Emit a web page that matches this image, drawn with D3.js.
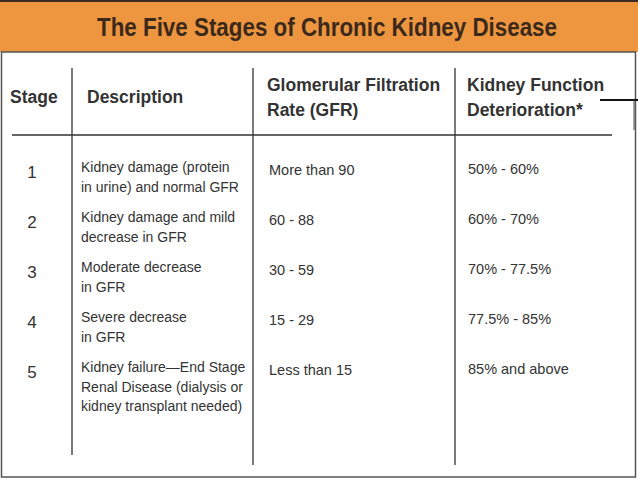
<!DOCTYPE html><html><head><meta charset="utf-8">
<script src="https://cdn.jsdelivr.net/npm/d3@7"></script>
<style>body{margin:0;background:#fff}svg{display:block}</style></head><body>
<script>
const title = "The Five Stages of Chronic Kidney Disease";
const headers = [["Stage"],["Description"],["Glomerular Filtration","Rate (GFR)"],["Kidney Function","Deterioration*"]];
const stages = ["1","2","3","4","5"];
const descriptions = [["Kidney damage (protein","in urine) and normal GFR"],["Kidney damage and mild","decrease in GFR"],["Moderate decrease","in GFR"],["Severe decrease","in GFR"],["Kidney failure\u2014End Stage","Renal Disease (dialysis or","kidney transplant needed)"]];
const gfr = ["More than 90","60 - 88","30 - 59","15 - 29","Less than 15"];
const deterioration = ["50% - 60%","60% - 70%","70% - 77.5%","77.5% - 85%","85% and above"];

const W=638,H=479;
const svg=d3.select("body").append("svg").attr("width",W).attr("height",H);
const font="'Liberation Sans Narrow','Arial Narrow','Liberation Sans',sans-serif";
svg.append("rect").attr("width",W).attr("height",H).attr("fill","#fff");
svg.append("rect").attr("x",0).attr("y",0).attr("width",W).attr("height",52).attr("fill","#EE953F");
svg.append("rect").attr("x",0).attr("y",0).attr("width",W).attr("height",2).attr("fill","#3a2c22");
svg.append("rect").attr("x",1.5).attr("y",52).attr("width",W-4).attr("height",H-54).attr("fill","none").attr("stroke","#555").attr("stroke-width",1.5);
svg.append("text").attr("x",97).attr("y",36).attr("textLength",460).attr("lengthAdjust","spacingAndGlyphs").attr("font-family",font).attr("font-weight","bold").attr("font-size",25).attr("fill","#3b2a1c").text(title);

const y=d3.scaleBand().domain(stages).range([142,392]);
const colX=[10,87,267,467];
const lines=[[72,68,455],[253,68,465],[455,68,465]];
svg.selectAll("line.v").data(lines).join("line").attr("x1",d=>d[0]).attr("x2",d=>d[0]).attr("y1",d=>d[1]).attr("y2",d=>d[2]).attr("stroke","#333").attr("stroke-width",1.3);
svg.append("line").attr("x1",12).attr("x2",612).attr("y1",135).attr("y2",135).attr("stroke","#333").attr("stroke-width",1.3);
svg.append("line").attr("x1",600).attr("x2",638).attr("y1",100).attr("y2",100).attr("stroke","#111").attr("stroke-width",2);
svg.append("line").attr("x1",634).attr("x2",634).attr("y1",100).attr("y2",130).attr("stroke","#444").attr("stroke-width",1);

headers.forEach((h,i)=>{
  const t=svg.append("text").attr("font-family",font).attr("font-weight","bold").attr("font-size",17.5).attr("fill","#333");
  const y0=h.length===1?103:91;
  h.forEach((s,j)=>t.append("tspan").attr("x",colX[i]).attr("y",y0+j*25).text(s));
});
const g=svg.append("g").attr("font-family",font).attr("fill","#333");
stages.forEach((s,i)=>{
  const yy=y(s)+34;
  g.append("text").attr("x",32).attr("y",yy+2).attr("text-anchor","middle").attr("font-size",17).text(s);
  const t=g.append("text").attr("font-size",14);
  descriptions[i].forEach((d,j)=>t.append("tspan").attr("x",81).attr("y",yy-4+j*19.5).text(d));
  g.append("text").attr("x",269).attr("y",yy-1).attr("font-size",14.5).text(gfr[i]);
  g.append("text").attr("x",468).attr("y",yy-2).attr("font-size",14.5).text(deterioration[i]);
});
</script></body></html>
